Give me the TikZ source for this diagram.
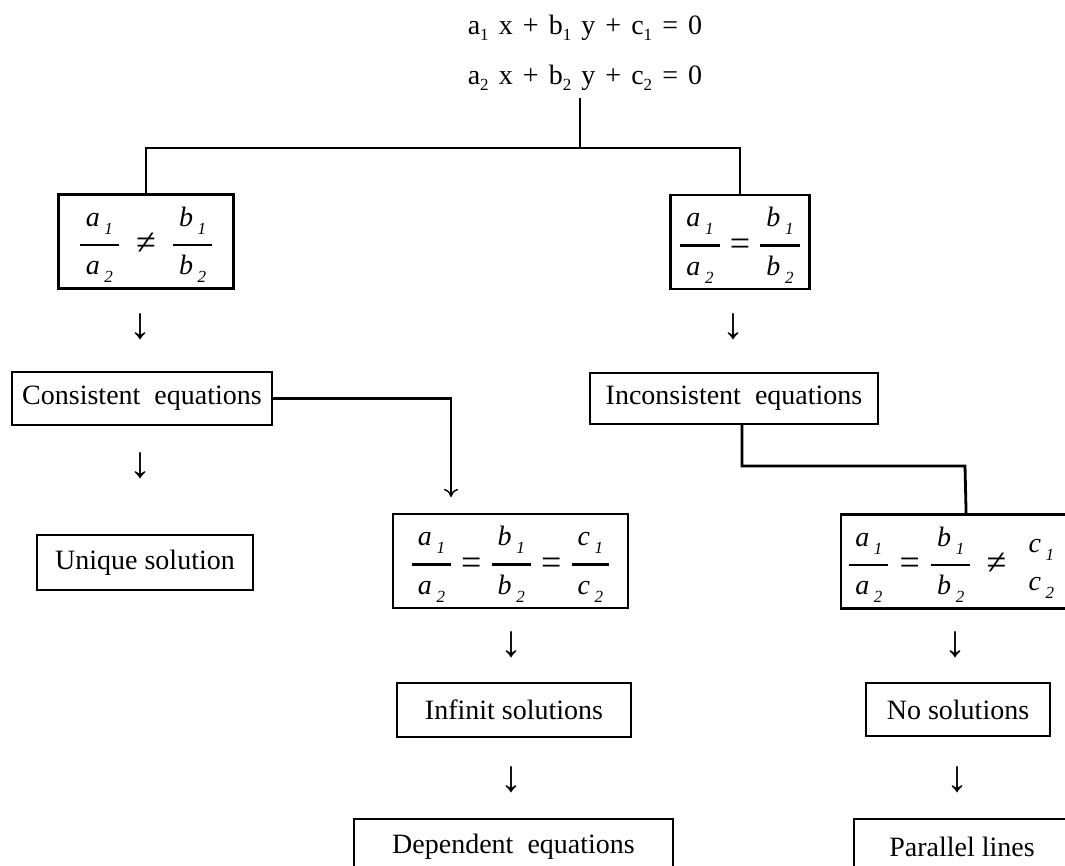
\documentclass[tikz,border=0pt]{standalone}
\usepackage{amsmath}
\usepackage{fontspec}
\setmainfont{Liberation Serif}
\usetikzlibrary{positioning, arrows.meta, calc}

% lowered index, and stacked ratio, e.g. a1 over a2
\newcommand{\lowidx}[2][8pt]{\raisebox{-#1}{\fontsize{17}{17}\selectfont #2}}
\newcommand{\ratio}[2][2.5pt]{$\genfrac{}{}{#1}{0}{\text{\itshape\hspace{6pt}#2\,\lowidx{1}\hspace{6pt}\rule[-10pt]{0pt}{36pt}}}{\text{\itshape #2\,\lowidx{2}\rule{0pt}{21pt}}}$}
\newcommand{\rel}[2][9pt]{\hspace{#1}\raisebox{-3.5pt}{\fontsize{36}{36}\selectfont #2}\hspace{#1}}
\newcommand{\eqnfont}{\fontsize{28}{32}\selectfont\spaceskip 0.36em\relax}

\begin{document}
\begin{tikzpicture}[
    x=1pt, y=-1pt,
    box/.style={draw, line width=2.2pt, font=\fontsize{28}{32}\selectfont, inner sep=0pt},
    ratiobox/.style={box, minimum height=94pt},
    conn/.style={line width=2.8pt},
    dart/.style={-{To[length=8pt, width=14pt]}, line width=1.4pt, shorten >=16pt},
    down/.style={font=\fontsize{44}{48}\selectfont, inner sep=0pt},
    eqn/.style={font=\eqnfont, inner sep=0pt},
]
\useasboundingbox (0,0) rectangle (1065,865);

% the system
\node[eqn] (eq1) at (585,28) {a\lowidx[6pt]{1} x + b\lowidx[6pt]{1} y + c\lowidx[6pt]{1} = 0};
\node[eqn] (eq2) at (585,78) {a\lowidx[6pt]{2} x + b\lowidx[6pt]{2} y + c\lowidx[6pt]{2} = 0};

% first split
\node[ratiobox, minimum width=175pt] (neq) at (146,241.5) {\ratio{a}\rel[16pt]{≠}\ratio{b}};
\node[ratiobox, minimum width=139pt] (eqab) at (740,242) {\ratio{a}\rel[9pt]{=}\ratio{b}};
\node[down] (d1) at (140,327) {↓};
\node[down] (d2) at (733,327) {↓};

\node[box, minimum width=260pt, minimum height=53pt] (cons) at (142,398.5) {Consistent~ equations};
\node[box, minimum width=288pt, minimum height=51pt] (incons) at (734,398.5) {Inconsistent~ equations};
\node[down] (d3) at (140,466) {↓};
\node[box, minimum width=216pt, minimum height=55pt] (uniq) at (145,562.5) {Unique solution};

% second split
\node[ratiobox, minimum width=235pt] (eqabc) at (510.5,561) {\ratio{a}\rel[9pt]{=}\ratio{b}\rel[9pt]{=}\ratio{c}};
\node[ratiobox, anchor=west, minimum width=250pt, text width=236pt, align=left, inner xsep=7pt] (eqabnc) at (840,561.5) {\ratio{a}\rel[10pt]{=}\ratio{b}\rel[15pt]{≠}\ratio[0pt]{c}};

\node[down] (d4) at (511,645) {↓};
\node[down] (d5) at (955,645) {↓};
\node[box, minimum width=234pt, minimum height=54pt] (inf) at (514,710) {Infinit solutions};
\node[box, minimum width=184pt, minimum height=53pt] (nosol) at (958,709.5) {No solutions};
\node[down] (d6) at (511,780) {↓};
\node[down] (d7) at (957,780) {↓};
\node[box, minimum width=319pt, minimum height=56pt] (dep) at (513.5,847) {Dependent~ equations};
\node[box, minimum width=216pt, minimum height=56pt] (par) at (962,847) {Parallel lines};

% connectors
\coordinate (hub) at (580,148);
\coordinate (drop) at (451,478);
\coordinate (knee) at (965,466);
\draw[conn] ($(eq2.south -| hub)+(0,7)$) -- (hub);
\draw[conn] (neq.north) |- (hub) -| (eqab.north);
\draw[conn] (cons.east) -| (drop);
\draw[dart] (drop) -- (drop |- eqabc.north);
\draw[conn] ([xshift=8pt]incons.south) |- (knee) -- (eqabnc.north);

\end{tikzpicture}
\end{document}
